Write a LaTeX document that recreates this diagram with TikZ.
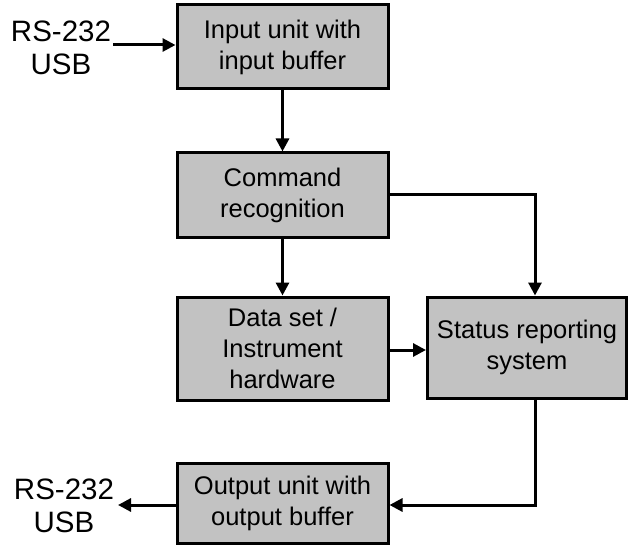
\documentclass[tikz,border=0pt]{standalone}
\usepackage{fontspec}
\setmainfont{Liberation Sans}
\usetikzlibrary{arrows.meta}
\begin{document}
\begin{tikzpicture}[x=1pt,y=-1pt,
  blk/.style={draw=black,line width=3pt,fill=black!24,minimum width=211pt,align=center,
    font=\fontsize{25.5}{31}\selectfont,inner sep=0pt},
  lbl/.style={align=center,font=\fontsize{29.5}{33}\selectfont,inner sep=0pt},
  arr/.style={line width=3pt,-{Triangle[length=13pt,width=13pt]}}]
\useasboundingbox (0,0) rectangle (629,548);
\node[blk,minimum height=84pt] (inp) at (282.5,47) {Input unit with\\input buffer};
\node[blk,minimum height=84pt] (cmd) at (282.5,195) {Command\\recognition};
\node[blk,minimum height=103pt] (dat) at (282.5,348.5) {Data set /\\Instrument\\hardware};
\node[blk,minimum height=101pt,minimum width=199pt] (sta) at (527,347.5) {Status reporting\\system};
\node[blk,minimum height=80pt] (out) at (282.5,503) {Output unit with\\output buffer};
\node[lbl] (rsin) at (61,48) {RS-232\\USB};
\node[lbl] (rsout) at (64,506) {RS-232\\USB};
\coordinate (inS) at (113,45);
\coordinate (outE) at (118,505);
\draw[arr] (inS) -- (inp.west |- inS);
\draw[arr] (inp) -- (cmd);
\draw[arr] (cmd) -- (dat);
\draw[arr] (cmd.east |- 0,195) -| (535,0 |- sta.north);
\draw[arr] (dat.east |- 0,350) -- (sta.west |- 0,350);
\draw[arr] (535,0 |- sta.south) |- (out.east |- 0,505);
\draw[arr] (out.west |- 0,505) -- (outE);
\end{tikzpicture}
\end{document}
